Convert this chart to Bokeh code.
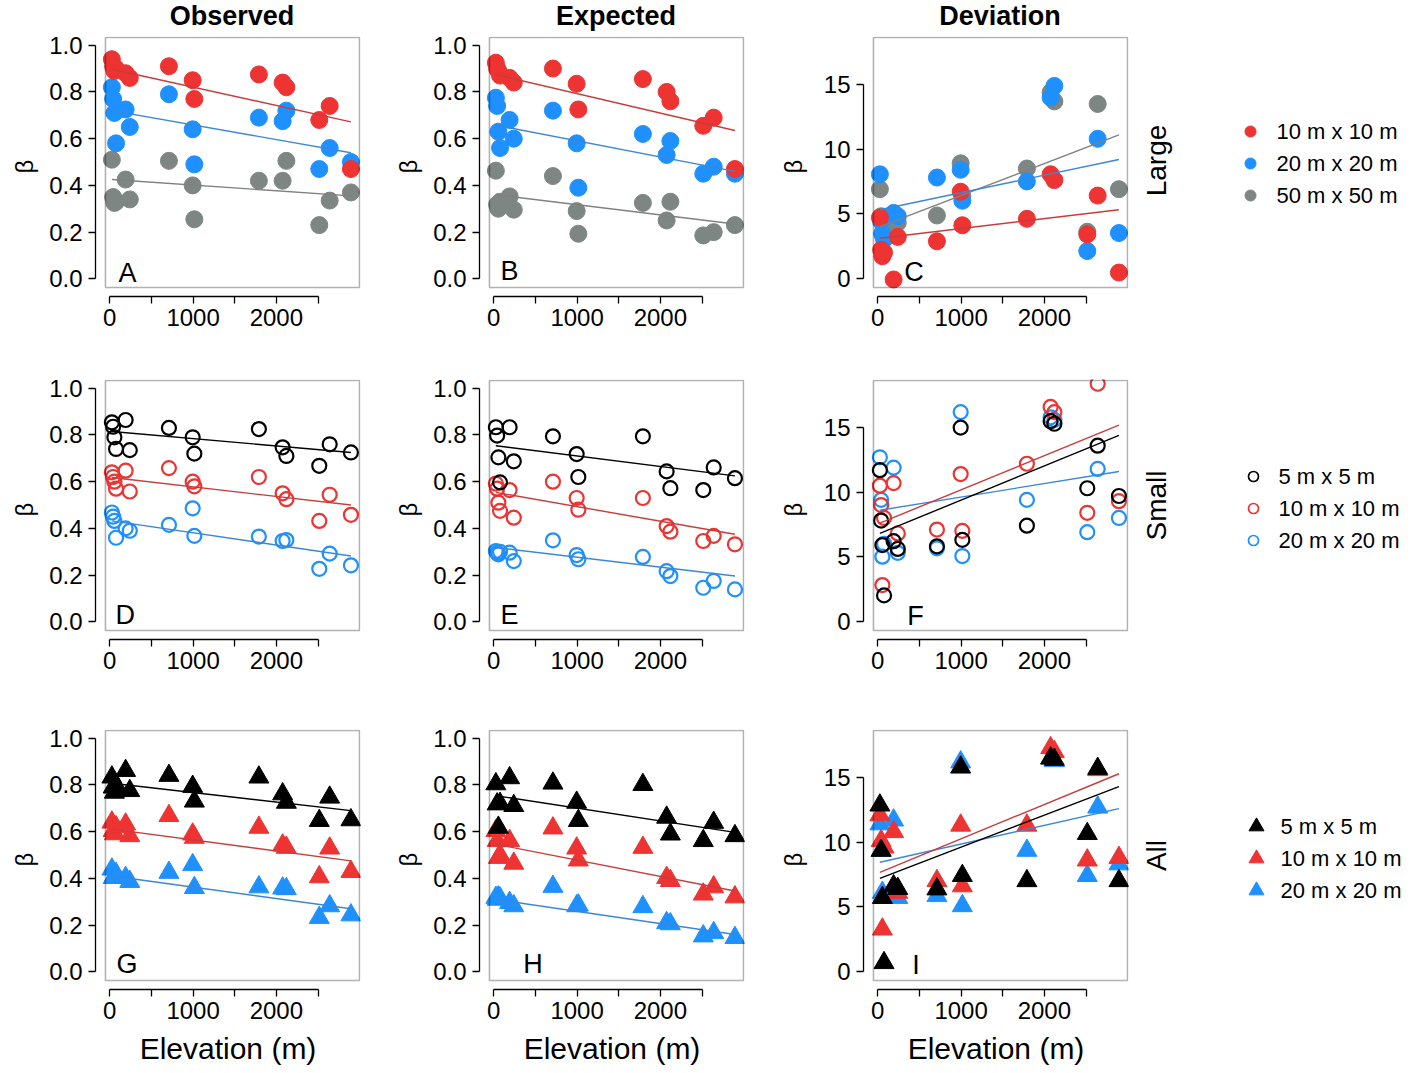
import math
from bokeh.plotting import figure
from bokeh.layouts import row, column
from bokeh.models import FixedTicker, PrintfTickFormatter, BoxAnnotation, Range1d
from bokeh.core.properties import value
from bokeh.embed import file_html
from bokeh.resources import INLINE

FONT = "Liberation Sans"

# ---------------- text ----------------
col_titles = ["Observed", "Expected", "Deviation"]
row_labels = ["Large", "Small", "All"]
panel_letters = ["A", "B", "C", "D", "E", "F", "G", "H", "I"]
large_sizes = ["10 m x 10 m", "20 m x 20 m", "50 m x 50 m"]
small_sizes = ["5 m x 5 m", "10 m x 10 m", "20 m x 20 m"]
x_ticks = [0, 500, 1000, 1500, 2000, 2500]
x_tick_labels = ["0", "", "1000", "", "2000", ""]
beta_ticks = [0.0, 0.2, 0.4, 0.6, 0.8, 1.0]
dev_ticks = [0, 5, 10, 15]
x_title = "Elevation (m)"
y_title = "β"

# ---------------- data ----------------
elevation = [25, 40, 55, 75, 190, 240, 710, 995, 1015, 1790, 2075, 2120, 2515, 2640, 2895]

obs_large_10 = [0.94, 0.91, 0.89, 0.90, 0.88, 0.86, 0.91, 0.85, 0.77, 0.875, 0.84, 0.82, 0.68, 0.74, 0.47]
obs_large_20 = [0.82, 0.77, 0.71, 0.58, 0.725, 0.65, 0.79, 0.64, 0.49, 0.69, 0.675, 0.72, 0.47, 0.56, 0.50]
obs_large_50 = [0.51, 0.35, 0.325, 0.33, 0.425, 0.34, 0.505, 0.40, 0.255, 0.42, 0.42, 0.505, 0.23, 0.335, 0.37]

exp_large_10 = [0.925, 0.90, 0.89, 0.87, 0.86, 0.84, 0.90, 0.835, 0.725, 0.855, 0.80, 0.76, 0.655, 0.69, 0.47]
exp_large_20 = [0.775, 0.74, 0.63, 0.56, 0.68, 0.60, 0.72, 0.58, 0.39, 0.62, 0.53, 0.59, 0.45, 0.48, 0.45]
exp_large_50 = [0.463, 0.318, 0.30, 0.33, 0.353, 0.296, 0.44, 0.29, 0.193, 0.325, 0.25, 0.33, 0.186, 0.20, 0.23]

dev_large_10 = [4.7, 2.2, 1.7, 2.0, -0.1, 3.2, 2.86, 6.7, 4.1, 4.6, 8.05, 7.6, 3.4, 6.4, 0.44]
dev_large_20 = [8.05, 4.4, 3.4, 3.0, 5.06, 4.8, 7.8, 8.4, 6.0, 7.5, 14.0, 14.9, 2.1, 10.8, 3.5]
dev_large_50 = [6.9, 4.8, 3.5, 3.2, 4.0, 4.3, 4.86, 8.9, 6.36, 8.5, 14.4, 13.7, 3.6, 13.5, 6.9]

obs_small_5 = [0.854, 0.835, 0.79, 0.74, 0.864, 0.735, 0.83, 0.79, 0.72, 0.825, 0.747, 0.71, 0.668, 0.76, 0.725]
obs_small_10 = [0.64, 0.62, 0.60, 0.57, 0.647, 0.558, 0.658, 0.60, 0.58, 0.62, 0.55, 0.525, 0.432, 0.544, 0.458]
obs_small_20 = [0.468, 0.45, 0.432, 0.36, 0.40, 0.39, 0.415, 0.486, 0.368, 0.365, 0.346, 0.35, 0.227, 0.292, 0.242]

exp_small_5 = [0.833, 0.797, 0.704, 0.597, 0.833, 0.687, 0.794, 0.718, 0.62, 0.794, 0.644, 0.572, 0.564, 0.661, 0.615]
exp_small_10 = [0.592, 0.57, 0.51, 0.475, 0.564, 0.446, 0.60, 0.53, 0.48, 0.53, 0.41, 0.386, 0.346, 0.368, 0.332]
exp_small_20 = [0.303, 0.295, 0.289, 0.30, 0.296, 0.26, 0.349, 0.286, 0.268, 0.278, 0.217, 0.196, 0.146, 0.175, 0.139]

dev_small_5 = [11.7, 7.8, 5.9, 2.0, 6.2, 5.6, 5.8, 15.0, 6.3, 7.4, 15.5, 15.3, 10.3, 13.6, 9.7]
dev_small_10 = [10.5, 9.0, 2.8, 8.0, 10.7, 6.8, 7.1, 11.4, 7.0, 12.2, 16.6, 16.2, 8.4, 18.4, 9.3]
dev_small_20 = [12.7, 9.4, 5.0, 6.0, 11.9, 5.3, 5.65, 16.2, 5.05, 9.4, 15.8, 15.6, 6.9, 11.8, 8.0]

obs_all_5 = [0.833, 0.79, 0.768, 0.80, 0.861, 0.775, 0.84, 0.793, 0.73, 0.833, 0.761, 0.725, 0.647, 0.747, 0.65]
obs_all_10 = [0.64, 0.604, 0.59, 0.62, 0.632, 0.582, 0.668, 0.589, 0.575, 0.618, 0.542, 0.532, 0.406, 0.529, 0.429]
obs_all_20 = [0.439, 0.403, 0.41, 0.42, 0.403, 0.386, 0.425, 0.458, 0.36, 0.363, 0.358, 0.355, 0.232, 0.282, 0.243]

exp_all_5 = [0.804, 0.718, 0.618, 0.72, 0.83, 0.711, 0.807, 0.725, 0.647, 0.801, 0.661, 0.589, 0.561, 0.639, 0.582]
exp_all_10 = [0.604, 0.561, 0.489, 0.50, 0.561, 0.464, 0.615, 0.529, 0.478, 0.532, 0.403, 0.39, 0.332, 0.363, 0.32]
exp_all_20 = [0.318, 0.31, 0.32, 0.315, 0.296, 0.282, 0.365, 0.282, 0.285, 0.278, 0.21, 0.205, 0.153, 0.167, 0.146]

dev_all_5 = [12.86, 9.35, 5.7, 0.65, 6.6, 6.4, 6.36, 15.8, 7.4, 7.0, 16.5, 16.4, 10.65, 15.7, 7.0]
dev_all_10 = [12.1, 10.1, 3.25, 9.6, 10.8, 6.1, 7.0, 11.3, 6.6, 11.3, 17.3, 17.0, 8.6, 15.6, 8.8]
dev_all_20 = [11.4, 9.35, 6.1, 5.7, 11.7, 5.7, 5.84, 16.2, 5.06, 9.35, 16.5, 16.3, 7.4, 12.7, 8.3]

# fitted trend lines: value at lowest and at highest elevation
fit_obs_large = [[0.897, 0.672], [0.72, 0.54], [0.425, 0.355]]
fit_exp_large = [[0.874, 0.635], [0.658, 0.46], [0.36, 0.235]]
fit_dev_large = [[3.1, 5.3], [5.3, 9.2], [4.0, 11.1]]
fit_obs_small = [[0.815, 0.725], [0.618, 0.50], [0.432, 0.282]]
fit_exp_small = [[0.754, 0.625], [0.554, 0.375], [0.318, 0.196]]
fit_dev_small = [[6.8, 14.4], [7.6, 15.2], [8.6, 11.6]]
fit_obs_all = [[0.807, 0.69], [0.611, 0.475], [0.41, 0.27]]
fit_exp_all = [[0.754, 0.597], [0.546, 0.346], [0.31, 0.16]]
fit_dev_all = [[7.2, 14.3], [7.66, 15.3], [8.44, 12.6]]

# ---------------- styles ----------------
RED, BLUE, GRAY, BLACK = "#EE3333", "#1E90FF", "#7E8683", "#000000"
RED_L, BLUE_L, GRAY_L, BLACK_L = "#C83C3C", "#3B87D6", "#808080", "#000000"
pal_large, lpal_large = [RED, BLUE, GRAY], [RED_L, BLUE_L, GRAY_L]
pal_small, lpal_small = [BLACK, RED, BLUE], [BLACK_L, RED_L, BLUE_L]

BOX_W, BOX_H = 255, 250
GAP_X, GAP_Y, PAD = 10, 9, 1
FRAME_W, FRAME_H = BOX_W + GAP_X + PAD, BOX_H + GAP_Y + PAD
XB = (-52.0, 2998.0)
YB_BETA = (-0.037, 1.033)
YB_DEV = (-0.72, 18.65)

HEADER_H = 31
ROW_H = [309, 347, 385]
ROW_TOP_B = [5, 39, 42]
COL_W = [384, 384, 355]
LEFT_B = 86
LEG_W = 272
TOTAL_W = sum(COL_W) + LEG_W
LETTER_PX = 27


def marker_style(rowi, color):
    if rowi == 0:
        return dict(marker="circle", size=17, fill_color=color, line_color=color)
    if rowi == 1:
        return dict(marker="circle", size=14, fill_color=None, line_color=color, line_width=2.2)
    return dict(marker="triangle", size=20, fill_color=color, line_color=color)


def make_panel(rowi, coli, series, fits, pal, lpal, letter, ldx, ldy):
    kind = "dev" if coli == 2 else "beta"
    yb = YB_DEV if kind == "dev" else YB_BETA
    sx = BOX_W / (XB[1] - XB[0])
    sy = BOX_H / (yb[1] - yb[0])
    fig_w, fig_h, top_b = COL_W[coli], ROW_H[rowi], ROW_TOP_B[rowi]
    p = figure(width=fig_w, height=fig_h,
               x_range=Range1d(XB[0] - GAP_X / sx, XB[1] + PAD / sx),
               y_range=Range1d(yb[0] - GAP_Y / sy, yb[1] + PAD / sy),
               output_backend="svg", toolbar_location=None, title=None,
               min_border_left=LEFT_B, min_border_right=fig_w - LEFT_B - FRAME_W,
               min_border_top=top_b, min_border_bottom=fig_h - top_b - FRAME_H)
    p.outline_line_color = None
    p.grid.visible = False
    p.background_fill_color = "white"
    p.border_fill_color = "white"
    p.add_layout(BoxAnnotation(left=XB[0], right=XB[1], bottom=yb[0], top=yb[1],
                               fill_alpha=0, line_color="black", line_width=1.6))
    for vals, col in reversed(list(zip(series, pal))):
        p.scatter(x=elevation, y=vals, **marker_style(rowi, col))
    for fit, col in reversed(list(zip(fits, lpal))):
        p.line(x=[min(elevation), max(elevation)], y=fit, line_color=col, line_width=1.4)
    cap_mid = ldy + 0.358 * LETTER_PX
    p.text(x=[XB[0] + ldx / sx], y=[yb[0] + cap_mid / sy], text=[letter],
           text_font=value(FONT), text_font_size=f"{LETTER_PX}px", text_color="black",
           text_align="left", text_baseline="middle")

    xa = p.xaxis[0]
    xa.ticker = FixedTicker(ticks=x_ticks)
    xa.major_label_overrides = {t: s for t, s in zip(x_ticks, x_tick_labels)}
    xa.bounds = (x_ticks[0], x_ticks[-1])
    ya = p.yaxis[0]
    if kind == "dev":
        ya.ticker = FixedTicker(ticks=dev_ticks)
        ya.formatter = PrintfTickFormatter(format="%d")
        ya.bounds = (dev_ticks[0], dev_ticks[-1])
        ya.axis_label_standoff = 14
    else:
        ya.ticker = FixedTicker(ticks=beta_ticks)
        ya.formatter = PrintfTickFormatter(format="%.1f")
        ya.bounds = (beta_ticks[0], beta_ticks[-1])
        ya.axis_label_standoff = 8
    for ax in (xa, ya):
        ax.minor_tick_line_color = None
        ax.major_tick_in = 0
        ax.major_tick_out = 7
        ax.axis_line_color = "black"
        ax.axis_line_width = 1.3
        ax.major_tick_line_color = "black"
        ax.major_tick_line_width = 1.3
        ax.major_label_text_font = FONT
        ax.major_label_text_font_size = "24px"
        ax.major_label_text_color = "black"
    xa.major_label_standoff = 5
    ya.major_label_standoff = 6
    ya.axis_label = y_title
    ya.axis_label_text_font = FONT
    ya.axis_label_text_font_size = "24px"
    ya.axis_label_text_font_style = "normal"
    ya.axis_label_text_color = "black"
    if rowi == 2:
        xa.axis_label = x_title
        xa.axis_label_text_font = FONT
        xa.axis_label_text_font_size = "30px"
        xa.axis_label_text_font_style = "normal"
        xa.axis_label_text_color = "black"
        xa.axis_label_standoff = 10
    return p


def blank_fig(w, h, top_b=0, frame_h=None):
    """Figure whose data units are pixels of the figure (y measured upwards from its bottom)."""
    if frame_h is None:
        frame_h = h
    bot_b = h - top_b - frame_h
    p = figure(width=w, height=h, x_range=Range1d(0, w), y_range=Range1d(bot_b, h - top_b),
               output_backend="svg", toolbar_location=None, title=None,
               x_axis_type=None, y_axis_type=None,
               min_border_left=0, min_border_right=0,
               min_border_top=top_b, min_border_bottom=bot_b)
    p.outline_line_color = None
    p.grid.visible = False
    p.background_fill_color = "white"
    p.border_fill_color = "white"
    return p


def make_legend(rowi, label, names, pal, ys, mx, tx, label_y):
    h = ROW_H[rowi]
    p = blank_fig(LEG_W, h, ROW_TOP_B[rowi], FRAME_H)
    p.text(x=[25], y=[h - label_y], text=[label], angle=math.pi / 2,
           text_font=value(FONT), text_font_size="28px", text_color="black",
           text_align="center", text_baseline="middle")
    yy = [h - y for y in ys]
    if rowi == 0:
        p.scatter(x=[mx] * 3, y=yy, marker="circle", size=11, fill_color=pal, line_color=pal)
    elif rowi == 1:
        p.scatter(x=[mx] * 3, y=yy, marker="circle", size=10, fill_color=None, line_color=pal, line_width=1.7)
    else:
        p.scatter(x=[mx] * 3, y=yy, marker="triangle", size=15, fill_color=pal, line_color=pal)
    p.text(x=[tx] * 3, y=yy, text=names, text_font=value(FONT), text_font_size="22px",
           text_color="black", text_align="left", text_baseline="middle")
    return p


# header with column titles
header = blank_fig(TOTAL_W, HEADER_H)
box_lefts = [LEFT_B + GAP_X + sum(COL_W[:i]) for i in range(3)]
header.text(x=[bl + BOX_W / 2 for bl in box_lefts], y=[HEADER_H - 15.5] * 3, text=col_titles,
            text_font=value(FONT), text_font_size="27px", text_font_style="bold",
            text_color="black", text_align="center", text_baseline="middle")

grid_series = [
    [[obs_large_10, obs_large_20, obs_large_50], [exp_large_10, exp_large_20, exp_large_50], [dev_large_10, dev_large_20, dev_large_50]],
    [[obs_small_5, obs_small_10, obs_small_20], [exp_small_5, exp_small_10, exp_small_20], [dev_small_5, dev_small_10, dev_small_20]],
    [[obs_all_5, obs_all_10, obs_all_20], [exp_all_5, exp_all_10, exp_all_20], [dev_all_5, dev_all_10, dev_all_20]],
]
grid_fits = [
    [fit_obs_large, fit_exp_large, fit_dev_large],
    [fit_obs_small, fit_exp_small, fit_dev_small],
    [fit_obs_all, fit_exp_all, fit_dev_all],
]
letter_offsets = [
    [(13, 5), (11, 7), (31, 6)],
    [(10, 6), (11, 6), (34, 5)],
    [(11, 7), (34, 7), (39, 6)],
]
legend_specs = [
    (row_labels[0], large_sizes, pal_large, [100, 132, 164], 119, 145, 129),
    (row_labels[1], small_sizes, pal_small, [136, 168, 200], 122, 147, 165),
    (row_labels[2], small_sizes, pal_small, [139, 171, 203], 125, 149, 168),
]

rows = []
for r in range(3):
    pal, lpal = (pal_large, lpal_large) if r == 0 else (pal_small, lpal_small)
    figs = []
    for c in range(3):
        ldx, ldy = letter_offsets[r][c]
        figs.append(make_panel(r, c, grid_series[r][c], grid_fits[r][c], pal, lpal,
                               panel_letters[r * 3 + c], ldx, ldy))
    lab, names, lp, ys, mx, tx, ly = legend_specs[r]
    figs.append(make_legend(r, lab, names, lp, ys, mx, tx, ly))
    rows.append(row(*figs, spacing=0))

layout = column(header, *rows, spacing=0, margin=(0, 8, 0, 8))
open("out.html", "w").write(file_html(layout, INLINE))
